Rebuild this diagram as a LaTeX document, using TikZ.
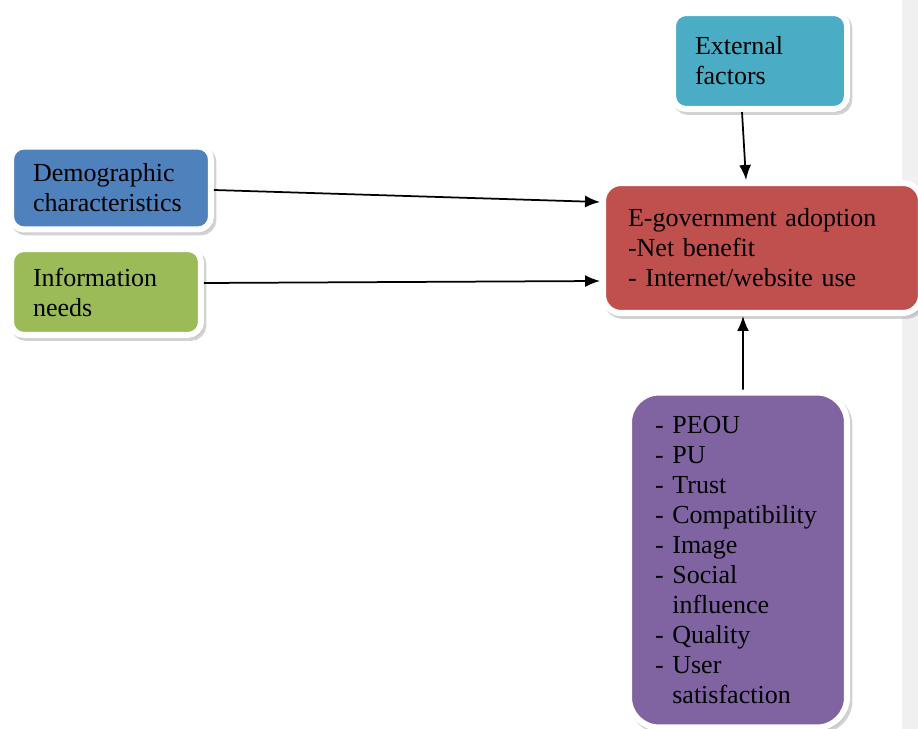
\documentclass[tikz,border=0pt]{standalone}
\usepackage{fontspec}
\setmainfont{Liberation Serif}
\usetikzlibrary{shadows,arrows.meta}
\begin{document}
\begin{tikzpicture}[x=0.02cm,y=-0.02cm,
    box/.style={draw=white,line width=0.12cm,rounded corners=0.26cm,align=left,
        inner sep=0pt,font=\fontsize{14.8}{17.07}\selectfont,
        drop shadow={shadow xshift=0.05cm,shadow yshift=-0.06cm,fill=black!35,draw=black!35,line width=0.12cm}},
    arr/.style={-{Latex[length=0.3cm,width=0.24cm]},line width=0.035cm}]
    \useasboundingbox (0,0) rectangle (918,729);
    \fill [black!6] (902,0) rectangle (918,729);
    \node [box,fill={rgb,255:red,79;green,129;blue,189},minimum width=4cm,minimum height=1.66cm,text width=3.12cm] (demo) at (111,188) {Demographic\\characteristics};
    \node [box,fill={rgb,255:red,155;green,187;blue,89},minimum width=3.8cm,minimum height=1.72cm,text width=2.92cm] (info) at (106,292) {Information\\needs};
    \node [box,fill={rgb,255:red,75;green,172;blue,198},minimum width=3.48cm,minimum height=1.92cm,text width=2.6cm] (ext) at (760,61) {External\\factors};
    \node [box,fill={rgb,255:red,192;green,80;blue,77},rounded corners=0.36cm,minimum width=6.36cm,minimum height=2.6cm,text width=5.36cm] (adopt) at (762,248) {E-government adoption\\-Net benefit\\- Internet/website use};
    \node [box,fill={rgb,255:red,128;green,100;blue,162},rounded corners=0.6cm,minimum width=4.36cm,minimum height=6.7cm,text width=3.32cm] (fac) at (738,560) {- PEOU\\- PU\\- Trust\\- Compatibility\\- Image\\- Social\\\hphantom{- }influence\\- Quality\\- User\\\hphantom{- }satisfaction};
    \draw [arr] ([yshift=-0.04cm]demo.east) -- ([yshift=0.92cm]adopt.west);
    \draw [arr] ([yshift=0.18cm]info.east) -- ([yshift=-0.66cm]adopt.west);
    \draw [arr] ([xshift=-0.36cm]ext.south) -- ([xshift=-0.32cm]adopt.north);
    \draw [arr] ([xshift=0.1cm]fac.north) -- ([xshift=-0.38cm]adopt.south);
\end{tikzpicture}
\end{document}
